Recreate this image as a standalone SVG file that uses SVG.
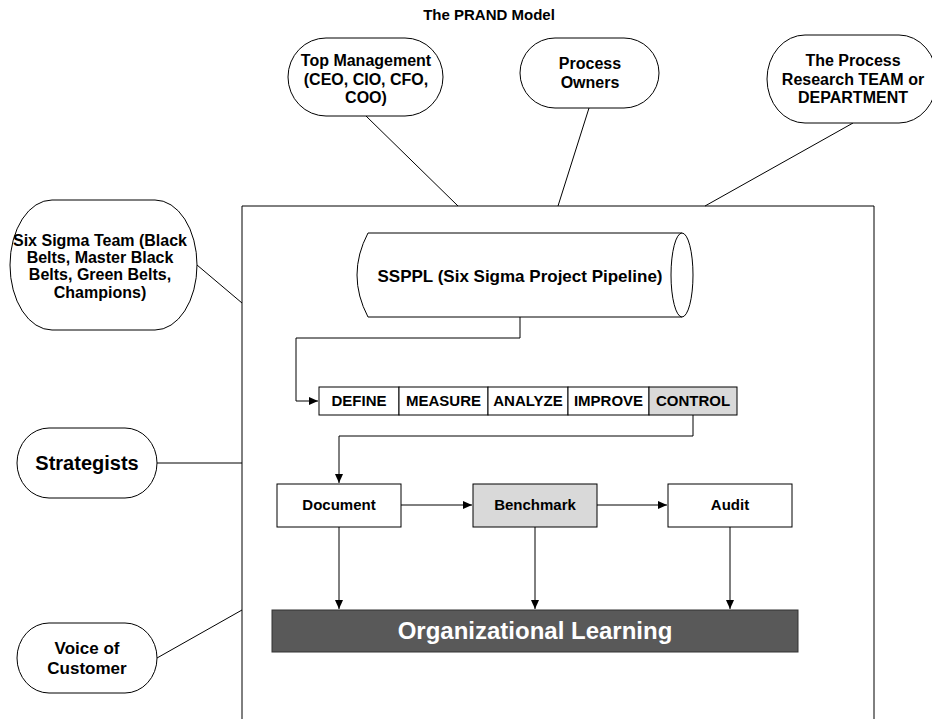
<svg xmlns="http://www.w3.org/2000/svg" width="932" height="719" viewBox="0 0 932 719">
<defs>
<marker id="arr" markerWidth="10" markerHeight="8" refX="9" refY="4" orient="auto" markerUnits="userSpaceOnUse">
<path d="M0,0 L9,4 L0,8 Z" fill="#000"/>
</marker>
<style>
text{font-family:"Liberation Sans",Arial,sans-serif;font-weight:bold;fill:#000;text-anchor:middle}
.sh{fill:#fff;stroke:#000;stroke-width:1}
.ln{fill:none;stroke:#000;stroke-width:1}
.t15{font-size:15px}
.t16{font-size:16px}
</style>
</defs>
<rect width="932" height="719" fill="#fff"/>
<text x="489" y="20" class="t15">The PRAND Model</text>

<g id="connectors">
<line class="ln" x1="366" y1="116" x2="458" y2="206"/>
<line class="ln" x1="589" y1="108" x2="558" y2="206"/>
<line class="ln" x1="853" y1="123" x2="705" y2="206"/>
<line class="ln" x1="197" y1="265" x2="242" y2="303"/>
<line class="ln" x1="157" y1="463" x2="242" y2="463"/>
<line class="ln" x1="157" y1="658" x2="242" y2="610"/>
<polyline class="ln" points="520,317 520,338 296,338 296,401 318,401" marker-end="url(#arr)"/>
<polyline class="ln" points="693,415 693,436 339,436 339,483" marker-end="url(#arr)"/>
<line class="ln" x1="401" y1="505" x2="472" y2="505" marker-end="url(#arr)"/>
<line class="ln" x1="597" y1="505" x2="667" y2="505" marker-end="url(#arr)"/>
<line class="ln" x1="339" y1="527" x2="339" y2="609" marker-end="url(#arr)"/>
<line class="ln" x1="535" y1="527" x2="535" y2="609" marker-end="url(#arr)"/>
<line class="ln" x1="730" y1="527" x2="730" y2="609" marker-end="url(#arr)"/>
</g>

<g id="frame">
<polyline class="ln" points="242,725 242,206 874,206 874,725" stroke="#333"/>
</g>

<g id="top-management">
<rect class="sh" x="288" y="38" width="155" height="78" rx="38" ry="39"/>
<text x="366" y="66" class="t16">Top Management</text>
<text x="366" y="85" class="t16">(CEO, CIO, CFO,</text>
<text x="366" y="103" class="t16">COO)</text>
</g>

<g id="process-owners">
<rect class="sh" x="520" y="38" width="139" height="70" rx="35" ry="35"/>
<text x="590" y="69" class="t16">Process</text>
<text x="590" y="88" class="t16">Owners</text>
</g>

<g id="process-research">
<rect class="sh" x="767" y="35" width="170" height="88" rx="38" ry="44"/>
<text x="853" y="66" class="t16">The Process</text>
<text x="853" y="85" class="t16">Research TEAM or</text>
<text x="853" y="103" class="t16">DEPARTMENT</text>
</g>

<g id="six-sigma-team">
<rect class="sh" x="10" y="200" width="187" height="130" rx="42" ry="65"/>
<text x="100" y="246" class="t16">Six Sigma Team (Black</text>
<text x="100" y="263" class="t16">Belts, Master Black</text>
<text x="100" y="280" class="t16">Belts, Green Belts,</text>
<text x="100" y="298" class="t16">Champions)</text>
</g>

<g id="strategists">
<rect class="sh" x="17" y="428" width="140" height="70" rx="32" ry="35"/>
<text x="87" y="470" font-size="20">Strategists</text>
</g>

<g id="voice-of-customer">
<rect class="sh" x="17" y="623" width="140" height="70" rx="32" ry="35"/>
<text x="87" y="654" font-size="17">Voice of</text>
<text x="87" y="674" font-size="17">Customer</text>
</g>

<g id="ssppl">
<path class="sh" d="M368,233 L682,233 L682,317 L368,317 Q346,275 368,233 Z"/>
<ellipse class="sh" cx="682" cy="275" rx="11" ry="42"/>
<text x="520" y="282" font-size="17">SSPPL (Six Sigma Project Pipeline)</text>
</g>

<g id="dmaic">
<rect class="sh" x="319" y="387" width="80" height="28"/>
<rect class="sh" x="399" y="387" width="89" height="28"/>
<rect class="sh" x="488" y="387" width="80" height="28"/>
<rect class="sh" x="568" y="387" width="81" height="28"/>
<rect class="sh" x="649" y="387" width="88" height="28" style="fill:#d9d9d9"/>
<text x="359" y="406" class="t15">DEFINE</text>
<text x="443.5" y="406" class="t15">MEASURE</text>
<text x="528" y="406" class="t15">ANALYZE</text>
<text x="608.5" y="406" class="t15">IMPROVE</text>
<text x="693" y="406" class="t15">CONTROL</text>
</g>

<g id="document">
<rect class="sh" x="277" y="484" width="124" height="43"/>
<text x="339" y="510" class="t15">Document</text>
</g>

<g id="benchmark">
<rect class="sh" x="473" y="484" width="124" height="43" style="fill:#d9d9d9"/>
<text x="535" y="510" class="t15">Benchmark</text>
</g>

<g id="audit">
<rect class="sh" x="668" y="484" width="124" height="43"/>
<text x="730" y="510" class="t15">Audit</text>
</g>

<g id="organizational-learning">
<rect x="272" y="610" width="526" height="42" fill="#595959" stroke="#333"/>
<text x="535" y="639" font-size="24" style="fill:#fff">Organizational Learning</text>
</g>
</svg>
